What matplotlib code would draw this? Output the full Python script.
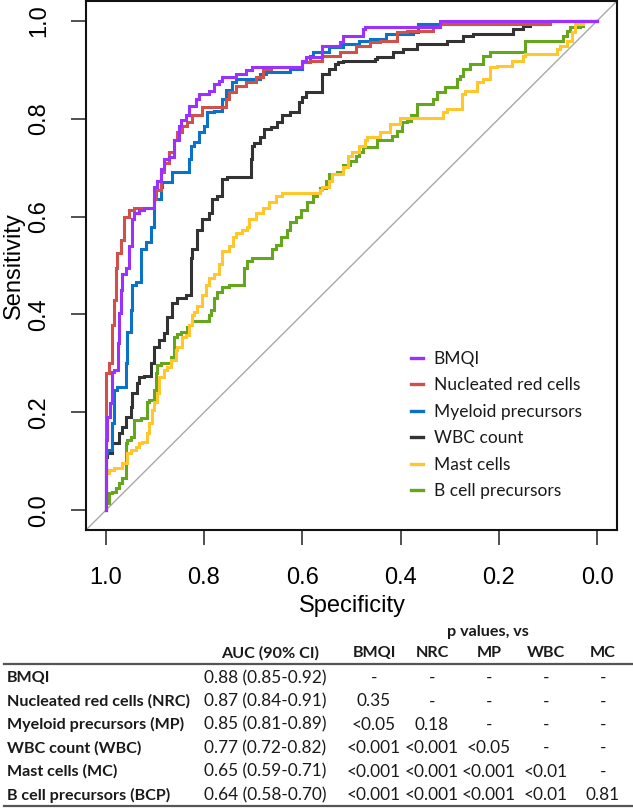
import matplotlib
matplotlib.use("Agg")
import matplotlib.pyplot as plt
from matplotlib.lines import Line2D

# ---------------- data ----------------
series_names = ["BMQI", "Nucleated red cells", "Myeloid precursors",
                "WBC count", "Mast cells", "B cell precursors"]
series_colors = ["#9B30FF", "#D2504A", "#0A72C8", "#333333", "#FFC72C", "#66A61E"]

bmqi_spec = [1.0, 1.0, 0.997, 0.991, 0.987, 0.983, 0.975, 0.973, 0.969, 0.967, 0.958, 0.952, 0.946, 0.942, 0.932, 0.922, 0.901, 0.895, 0.887, 0.881, 0.871, 0.861, 0.850, 0.846, 0.836, 0.830, 0.816, 0.810, 0.789, 0.779, 0.769, 0.763, 0.734, 0.714, 0.702, 0.681, 0.600, 0.592, 0.559, 0.524, 0.518, 0.477, 0.473, 0.321, 0.321, 0.273, 0.0]
bmqi_sens = [0.0, 0.138, 0.144, 0.191, 0.220, 0.283, 0.287, 0.342, 0.403, 0.450, 0.483, 0.495, 0.539, 0.594, 0.608, 0.614, 0.618, 0.661, 0.672, 0.696, 0.717, 0.721, 0.757, 0.784, 0.798, 0.808, 0.825, 0.839, 0.850, 0.856, 0.870, 0.876, 0.884, 0.890, 0.899, 0.905, 0.905, 0.917, 0.925, 0.948, 0.956, 0.968, 0.982, 0.986, 0.993, 1.0, 1.0]

nrc_spec = [1.0, 1.0, 0.999, 0.993, 0.987, 0.983, 0.979, 0.977, 0.969, 0.963, 0.952, 0.942, 0.901, 0.897, 0.887, 0.881, 0.871, 0.861, 0.854, 0.844, 0.834, 0.824, 0.804, 0.755, 0.749, 0.734, 0.714, 0.694, 0.681, 0.663, 0.600, 0.585, 0.559, 0.524, 0.490, 0.463, 0.443, 0.408, 0.388, 0.335, 0.321, 0.233, 0.096, 0.096, 0.0]
nrc_sens = [0.0, 0.164, 0.220, 0.281, 0.301, 0.378, 0.430, 0.495, 0.526, 0.553, 0.600, 0.614, 0.618, 0.635, 0.655, 0.690, 0.710, 0.731, 0.757, 0.772, 0.784, 0.792, 0.808, 0.823, 0.839, 0.854, 0.866, 0.874, 0.884, 0.901, 0.905, 0.915, 0.917, 0.927, 0.935, 0.948, 0.956, 0.958, 0.976, 0.978, 0.986, 0.993, 0.993, 1.0, 1.0]

mp_spec = [1.0, 0.999, 0.997, 0.987, 0.983, 0.977, 0.958, 0.956, 0.948, 0.946, 0.938, 0.928, 0.928, 0.918, 0.907, 0.907, 0.901, 0.887, 0.885, 0.865, 0.854, 0.830, 0.826, 0.820, 0.810, 0.799, 0.793, 0.779, 0.763, 0.755, 0.744, 0.734, 0.687, 0.673, 0.661, 0.626, 0.620, 0.600, 0.585, 0.579, 0.545, 0.518, 0.484, 0.463, 0.429, 0.375, 0.365, 0.239, 0.200, 0.0]
mp_sens = [0.0, 0.0, 0.117, 0.124, 0.179, 0.246, 0.252, 0.301, 0.364, 0.410, 0.460, 0.466, 0.518, 0.533, 0.547, 0.559, 0.579, 0.635, 0.661, 0.670, 0.690, 0.690, 0.717, 0.743, 0.753, 0.772, 0.784, 0.813, 0.815, 0.839, 0.858, 0.874, 0.880, 0.890, 0.895, 0.895, 0.901, 0.901, 0.915, 0.927, 0.935, 0.946, 0.952, 0.958, 0.962, 0.972, 0.976, 0.993, 1.0, 1.0]

wbc_spec = [1.0, 1.0, 0.997, 0.987, 0.973, 0.967, 0.958, 0.948, 0.946, 0.936, 0.932, 0.922, 0.907, 0.901, 0.891, 0.881, 0.875, 0.865, 0.854, 0.836, 0.826, 0.824, 0.814, 0.804, 0.789, 0.783, 0.773, 0.763, 0.753, 0.742, 0.704, 0.702, 0.698, 0.687, 0.677, 0.663, 0.651, 0.641, 0.626, 0.606, 0.600, 0.592, 0.585, 0.561, 0.559, 0.545, 0.534, 0.528, 0.518, 0.453, 0.449, 0.416, 0.396, 0.367, 0.306, 0.273, 0.253, 0.172, 0.151, 0.137, 0.102, 0.102, 0.0]
wbc_sens = [0.0, 0.042, 0.109, 0.117, 0.138, 0.158, 0.171, 0.191, 0.211, 0.240, 0.260, 0.273, 0.275, 0.301, 0.334, 0.348, 0.362, 0.395, 0.423, 0.434, 0.440, 0.516, 0.533, 0.573, 0.594, 0.608, 0.635, 0.641, 0.676, 0.680, 0.680, 0.717, 0.743, 0.751, 0.762, 0.778, 0.782, 0.792, 0.808, 0.813, 0.833, 0.845, 0.854, 0.854, 0.874, 0.890, 0.901, 0.911, 0.915, 0.917, 0.921, 0.925, 0.935, 0.942, 0.952, 0.958, 0.968, 0.972, 0.982, 0.988, 0.993, 1.0, 1.0]

mc_spec = [1.0, 0.999, 0.993, 0.983, 0.967, 0.956, 0.948, 0.938, 0.932, 0.926, 0.916, 0.912, 0.905, 0.901, 0.895, 0.891, 0.881, 0.875, 0.867, 0.857, 0.854, 0.844, 0.836, 0.830, 0.824, 0.820, 0.814, 0.804, 0.795, 0.789, 0.779, 0.769, 0.763, 0.749, 0.742, 0.734, 0.722, 0.712, 0.708, 0.694, 0.681, 0.667, 0.653, 0.641, 0.630, 0.565, 0.561, 0.545, 0.539, 0.518, 0.508, 0.498, 0.484, 0.473, 0.469, 0.443, 0.422, 0.402, 0.386, 0.314, 0.306, 0.275, 0.270, 0.245, 0.233, 0.219, 0.204, 0.174, 0.151, 0.147, 0.082, 0.076, 0.062, 0.052, 0.046, 0.041, 0.029, 0.020, 0.0]
mc_sens = [0.0, 0.036, 0.076, 0.083, 0.087, 0.097, 0.117, 0.124, 0.130, 0.138, 0.140, 0.158, 0.179, 0.205, 0.222, 0.240, 0.273, 0.287, 0.293, 0.307, 0.328, 0.334, 0.355, 0.358, 0.378, 0.399, 0.405, 0.417, 0.440, 0.460, 0.475, 0.483, 0.503, 0.530, 0.539, 0.559, 0.567, 0.573, 0.579, 0.594, 0.608, 0.618, 0.629, 0.641, 0.649, 0.649, 0.655, 0.661, 0.672, 0.686, 0.702, 0.723, 0.731, 0.743, 0.757, 0.762, 0.772, 0.788, 0.802, 0.802, 0.813, 0.819, 0.850, 0.856, 0.874, 0.880, 0.905, 0.907, 0.917, 0.927, 0.931, 0.942, 0.948, 0.958, 0.976, 0.993, 0.993, 1.0, 1.0]

bcp_spec = [1.0, 0.999, 0.993, 0.987, 0.979, 0.973, 0.967, 0.958, 0.956, 0.948, 0.942, 0.928, 0.916, 0.912, 0.901, 0.897, 0.895, 0.887, 0.867, 0.861, 0.854, 0.846, 0.834, 0.830, 0.824, 0.816, 0.789, 0.785, 0.779, 0.773, 0.763, 0.749, 0.718, 0.712, 0.702, 0.687, 0.661, 0.653, 0.643, 0.632, 0.626, 0.612, 0.602, 0.590, 0.579, 0.571, 0.565, 0.551, 0.545, 0.530, 0.518, 0.504, 0.490, 0.484, 0.477, 0.449, 0.443, 0.418, 0.408, 0.398, 0.388, 0.378, 0.367, 0.361, 0.335, 0.327, 0.310, 0.286, 0.279, 0.273, 0.259, 0.233, 0.219, 0.215, 0.147, 0.143, 0.070, 0.062, 0.056, 0.035, 0.029, 0.009, 0.0]
bcp_sens = [0.0, 0.0, 0.015, 0.036, 0.038, 0.046, 0.056, 0.066, 0.138, 0.144, 0.150, 0.185, 0.189, 0.222, 0.226, 0.246, 0.281, 0.297, 0.301, 0.314, 0.355, 0.360, 0.364, 0.374, 0.378, 0.387, 0.387, 0.399, 0.410, 0.434, 0.446, 0.456, 0.460, 0.495, 0.510, 0.516, 0.516, 0.533, 0.542, 0.559, 0.573, 0.588, 0.600, 0.614, 0.629, 0.641, 0.649, 0.659, 0.672, 0.686, 0.690, 0.706, 0.713, 0.723, 0.731, 0.741, 0.757, 0.757, 0.764, 0.774, 0.792, 0.794, 0.808, 0.829, 0.829, 0.839, 0.854, 0.864, 0.880, 0.886, 0.901, 0.911, 0.927, 0.935, 0.935, 0.958, 0.958, 0.968, 0.978, 0.986, 0.988, 0.999, 1.0]

axis_ticks = [1.0, 0.8, 0.6, 0.4, 0.2, 0.0]
axis_tick_labels = ["1.0", "0.8", "0.6", "0.4", "0.2", "0.0"]

# table
table_rows = ["BMQI", "Nucleated red cells (NRC)", "Myeloid precursors (MP)",
              "WBC count (WBC)", "Mast cells (MC)", "B cell precursors (BCP)"]
table_auc = ["0.88 (0.85-0.92)", "0.87 (0.84-0.91)", "0.85 (0.81-0.89)",
             "0.77 (0.72-0.82)", "0.65 (0.59-0.71)", "0.64 (0.58-0.70)"]
p_columns = ["BMQI", "NRC", "MP", "WBC", "MC"]
p_vs_bmqi = ["-", "0.35", "<0.05", "<0.001", "<0.001", "<0.001"]
p_vs_nrc = ["-", "-", "0.18", "<0.001", "<0.001", "<0.001"]
p_vs_mp = ["-", "-", "-", "<0.05", "<0.001", "<0.001"]
p_vs_wbc = ["-", "-", "-", "-", "<0.01", "<0.01"]
p_vs_mc = ["-", "-", "-", "-", "-", "0.81"]

# ---------------- figure ----------------
W, H = 633, 809
fig = plt.figure(figsize=(W / 100, H / 100), dpi=100)

def fx(px):
    return px / W

def fy(py):
    return 1 - py / H

ax = fig.add_axes([fx(86), fy(530), fx(617) - fx(86), fy(1) - fy(530)])
ax.set_xlim(1.04, -0.04)
ax.set_ylim(-0.04, 1.04)

# chance diagonal
ax.plot([1.04, -0.04], [-0.04, 1.04], color="#A8A8A8", lw=1.0, zorder=1)

curves = [(bmqi_spec, bmqi_sens), (nrc_spec, nrc_sens), (mp_spec, mp_sens),
          (wbc_spec, wbc_sens), (mc_spec, mc_sens), (bcp_spec, bcp_sens)]
handles = []
for i in range(len(curves) - 1, -1, -1):
    sx, sy = curves[i]
    ax.plot(sx, sy, drawstyle="steps-pre", color=series_colors[i], lw=2.2,
            solid_joinstyle="miter", zorder=2 + (len(curves) - i))
for i in range(len(curves)):
    handles.append(Line2D([], [], color=series_colors[i], lw=2.4))

axis_font = "Liberation Sans"
ax.set_xticks(axis_ticks)
ax.set_xticklabels(axis_tick_labels, fontfamily=axis_font, fontsize=17)
ax.set_yticks(axis_ticks)
ax.set_yticklabels(axis_tick_labels, fontfamily=axis_font, fontsize=17,
                   rotation=90, va="center")
ax.tick_params(axis="both", direction="out", length=10.5, width=1.1, color="#222222")
ax.tick_params(axis="x", pad=16)
ax.tick_params(axis="y", pad=15)
for s in ax.spines.values():
    s.set_linewidth(1.5)
    s.set_color("#111111")

fig.text(fx(352), fy(606), "Specificity", ha="center", va="center",
         fontfamily=axis_font, fontsize=17)
fig.text(fx(14), fy(266), "Sensitivity", ha="center", va="center",
         rotation=90, fontfamily=axis_font, fontsize=17)

leg = ax.legend(handles, series_names, loc="upper left",
                bbox_to_anchor=(fx(411), fy(351)), bbox_transform=fig.transFigure,
                frameon=False, prop={"family": "Lato", "size": 12.5},
                handlelength=0.7, handletextpad=0.6, labelspacing=0.6,
                borderpad=0, borderaxespad=0)
for t in leg.get_texts():
    t.set_color("#1a1a1a")

# ---------------- table ----------------
tfont = "Lato"
tsize = 12.4
bsize = 11.6
tcol = "#1a1a1a"
fig.text(fx(488), fy(632), "p values, vs", ha="center", va="center",
         fontfamily=tfont, fontsize=bsize, fontweight="bold", color=tcol)
fig.text(fx(270), fy(653), "AUC (90% CI)", ha="center", va="center",
         fontfamily=tfont, fontsize=bsize, fontweight="bold", color=tcol)
col_x = [374, 432, 489, 546, 603]
for c, x in zip(p_columns, col_x):
    fig.text(fx(x), fy(653), c, ha="center", va="center",
             fontfamily=tfont, fontsize=bsize, fontweight="bold", color=tcol)

fig.add_artist(Line2D([fx(4), fx(632)], [fy(664), fy(664)], color="#555555", lw=1.6))
fig.add_artist(Line2D([fx(4), fx(632)], [fy(806), fy(806)], color="#555555", lw=1.6))

p_cols = [p_vs_bmqi, p_vs_nrc, p_vs_mp, p_vs_wbc, p_vs_mc]
for r in range(len(table_rows)):
    y = 678 + 23.4 * r
    fig.text(fx(7), fy(y), table_rows[r], ha="left", va="center",
             fontfamily=tfont, fontsize=bsize, fontweight="bold", color=tcol)
    fig.text(fx(265), fy(y), table_auc[r], ha="center", va="center",
             fontfamily=tfont, fontsize=tsize, color=tcol)
    for c, x in enumerate(col_x):
        fig.text(fx(x), fy(y), p_cols[c][r], ha="center", va="center",
                 fontfamily=tfont, fontsize=tsize, color=tcol)

fig.savefig("out.png", dpi=100)
